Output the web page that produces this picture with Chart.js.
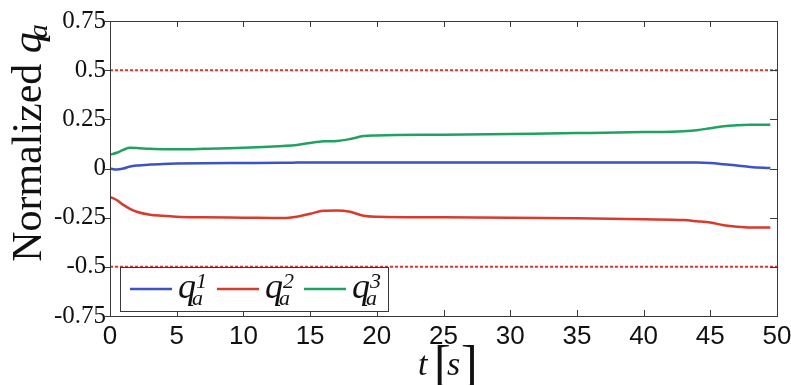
<!DOCTYPE html>
<html>
<head>
<meta charset="utf-8">
<script src="https://cdn.jsdelivr.net/npm/chart.js@4.4.0/dist/chart.umd.min.js"></script>
<style>
    html, body { margin: 0; padding: 0; background: #fff; }
</style>
</head>
<body>
<canvas id="qaChart" width="791" height="385"></canvas>
<script>
// ================================
// Data
// ================================
const timeS = [0, 0.5, 1, 1.5, 2, 3, 4, 5, 7, 10, 13, 14, 15, 16, 17, 18, 19, 20, 25, 30, 35, 40, 43, 44, 45, 46, 47, 48, 49.5];
const qa1 = [0, -0.005, 0, 0.01, 0.015, 0.02, 0.023, 0.025, 0.027, 0.028, 0.029, 0.03, 0.031, 0.031, 0.03, 0.03, 0.03, 0.03, 0.03, 0.03, 0.03, 0.03, 0.03, 0.03, 0.028, 0.022, 0.015, 0.008, 0.002];
const qa2 = [-0.145, -0.16, -0.185, -0.205, -0.22, -0.235, -0.24, -0.245, -0.248, -0.25, -0.252, -0.245, -0.23, -0.215, -0.213, -0.22, -0.24, -0.245, -0.248, -0.25, -0.253, -0.258, -0.262, -0.268, -0.275, -0.288, -0.296, -0.3, -0.3];
const qa3 = [0.07, 0.08, 0.095, 0.105, 0.104, 0.1, 0.098, 0.098, 0.1, 0.105, 0.115, 0.12, 0.13, 0.138, 0.14, 0.15, 0.165, 0.168, 0.172, 0.176, 0.18, 0.185, 0.19, 0.195, 0.205, 0.215, 0.22, 0.222, 0.222];
const boundLevels = [0.5, -0.5];
const boundSpan = [0, 50];
const xTicks = [0, 5, 10, 15, 20, 25, 30, 35, 40, 45, 50];
const yTicks = [0.75, 0.5, 0.25, 0, -0.25, -0.5, -0.75];
const seriesSup = ["1", "2", "3"];
const seriesColors = ["#3d52c6", "#d93a2b", "#20a262"];

const SERIF = "'Liberation Serif', 'Times New Roman', serif";
const SANS = "'Liberation Sans', Arial, sans-serif";

function toPoints(xs, ys) {
    return xs.map((x, i) => ({ x: x, y: ys[i] }));
}

// ================================
// Decorations: box, ticks, titles, legend
// ================================
const decorPlugin = {
    id: "decor",
    afterDraw(chart) {
        const ctx = chart.ctx;
        const area = chart.chartArea;
        const xs = chart.scales.x;
        const ys = chart.scales.y;
        ctx.save();

        // frame
        ctx.strokeStyle = "#3a3a3a";
        ctx.lineWidth = 1;
        ctx.strokeRect(Math.round(area.left) + 0.5, Math.round(area.top) + 0.5,
            Math.round(area.right - area.left), Math.round(area.bottom - area.top));

        // tick marks
        ctx.beginPath();
        xTicks.forEach(v => {
            const px = Math.round(xs.getPixelForValue(v)) + 0.5;
            ctx.moveTo(px, area.bottom); ctx.lineTo(px, area.bottom - 6);
            ctx.moveTo(px, area.top); ctx.lineTo(px, area.top + 6);
        });
        yTicks.forEach(v => {
            const py = Math.round(ys.getPixelForValue(v)) + 0.5;
            ctx.moveTo(area.left - 5, py); ctx.lineTo(area.left, py);
            ctx.moveTo(area.right, py); ctx.lineTo(area.right - 7, py);
        });
        ctx.stroke();

        // y title: "Normalized q_a"
        ctx.save();
        ctx.translate(41, 143);
        ctx.rotate(-Math.PI / 2);
        ctx.fillStyle = "#111";
        ctx.textBaseline = "alphabetic";
        ctx.textAlign = "left";
        const word = "Normalized ";
        ctx.font = "42px " + SERIF;
        const wWord = ctx.measureText(word).width;
        ctx.font = "italic 42px " + SERIF;
        const wQ = ctx.measureText("q").width;
        ctx.font = "italic 28px " + SERIF;
        const wA = ctx.measureText("a").width;
        const total = wWord + wQ + wA - 6;
        let sx = -total / 2;
        ctx.font = "42px " + SERIF;
        ctx.fillText(word, sx, 0);
        sx += wWord;
        ctx.font = "italic 42px " + SERIF;
        ctx.fillText("q", sx, 0);
        ctx.font = "italic 28px " + SERIF;
        ctx.fillText("a", sx + wQ - 6, 6);
        ctx.restore();

        // x title: "t[s]"
        ctx.fillStyle = "#111";
        ctx.textAlign = "left";
        ctx.textBaseline = "alphabetic";
        ctx.font = "italic 34px " + SERIF;
        ctx.fillText("t", 418, 375);
        ctx.fillText("s", 447, 375);
        ctx.font = "50px " + SERIF;
        ctx.fillText("[", 434, 380);
        ctx.fillText("]", 461, 380);

        // legend
        const box = { x: 120, y: 267, w: 268, h: 44 };
        ctx.fillStyle = "#fff";
        ctx.fillRect(box.x, box.y, box.w, box.h);
        ctx.strokeStyle = "#3a3a3a";
        ctx.lineWidth = 1;
        ctx.strokeRect(box.x + 0.5, box.y + 0.5, box.w, box.h);
        const lineY = 289;
        seriesSup.forEach((sup, i) => {
            const x0 = 130 + i * 87;
            ctx.strokeStyle = seriesColors[i];
            ctx.lineWidth = 2.5;
            ctx.beginPath();
            ctx.moveTo(x0, lineY);
            ctx.lineTo(x0 + 42, lineY);
            ctx.stroke();
            ctx.fillStyle = "#111";
            ctx.font = "italic 36px " + SERIF;
            ctx.fillText("q", x0 + 48, 298);
            ctx.font = "italic 22px " + SERIF;
            ctx.fillText(sup, x0 + 66, 288);
            ctx.fillText("a", x0 + 62, 305);
        });

        ctx.restore();
    }
};

// ================================
// Chart
// ================================
const lineStyle = {
    borderWidth: 2.5,
    pointRadius: 0,
    fill: false,
    cubicInterpolationMode: "monotone"
};

const datasets = [qa1, qa2, qa3].map((vals, i) => Object.assign({
    label: "q" + seriesSup[i],
    data: toPoints(timeS, vals),
    borderColor: seriesColors[i]
}, lineStyle));

boundLevels.forEach(level => {
    datasets.unshift({
        label: "bound",
        data: toPoints(boundSpan, [level, level]),
        borderColor: "#f02c2c",
        borderWidth: 2,
        borderDash: [3, 2],
        pointRadius: 0,
        fill: false
    });
});

new Chart(document.getElementById("qaChart"), {
    type: "line",
    data: { datasets: datasets },
    options: {
        responsive: false,
        animation: false,
        layout: { padding: { top: 21, right: 14, left: 0, bottom: 0 } },
        plugins: {
            legend: { display: false },
            tooltip: { enabled: false }
        },
        scales: {
            x: {
                type: "linear",
                min: 0,
                max: 50,
                afterBuildTicks: scale => { scale.ticks = xTicks.map(v => ({ value: v })); },
                afterFit: scale => {
                    scale.height = 69;
                    scale.paddingLeft = 0;
                    scale.paddingRight = 0;
                },
                grid: { display: false, drawTicks: false },
                border: { display: false },
                ticks: {
                    color: "#111",
                    padding: 5,
                    maxRotation: 0,
                    font: { family: SANS, size: 26 },
                    callback: v => String(v)
                }
            },
            y: {
                type: "linear",
                min: -0.75,
                max: 0.75,
                afterBuildTicks: scale => { scale.ticks = yTicks.map(v => ({ value: v })); },
                afterFit: scale => {
                    scale.width = 110;
                    scale.paddingTop = 0;
                    scale.paddingBottom = 0;
                },
                grid: { display: false, drawTicks: false },
                border: { display: false },
                ticks: {
                    color: "#111",
                    padding: 4,
                    font: { family: SERIF, size: 25 },
                    callback: v => (v === 0 ? "0" : String(v))
                }
            }
        }
    },
    plugins: [decorPlugin]
});
</script>
</body>
</html>
